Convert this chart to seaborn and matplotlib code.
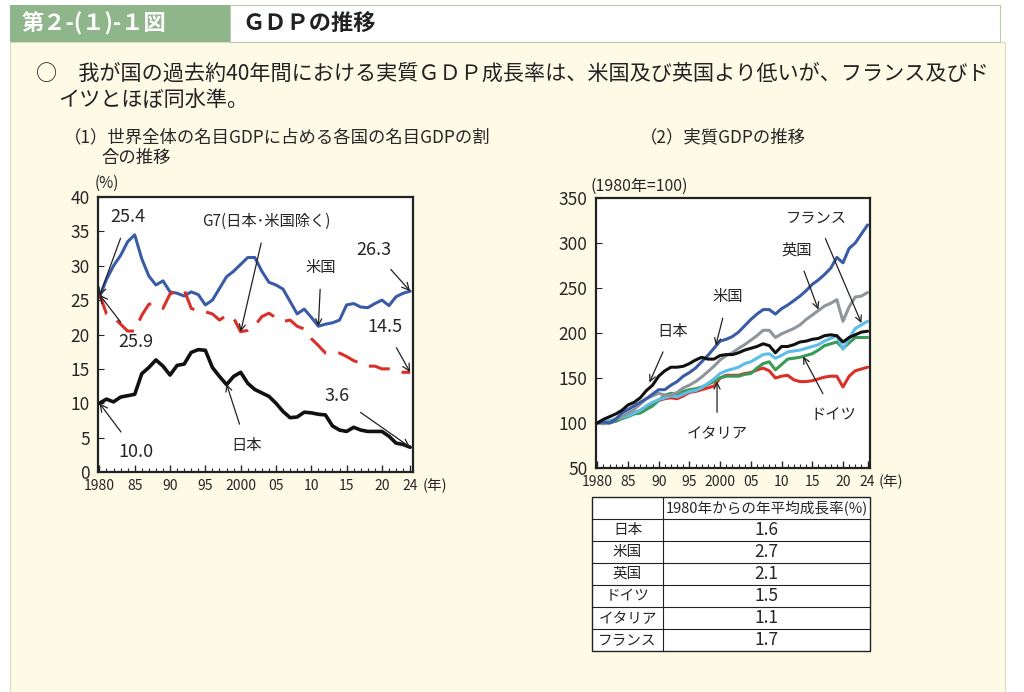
import numpy as np
import pandas as pd
import seaborn as sns
import matplotlib.pyplot as plt
from matplotlib.patches import Rectangle

sns.set_style('ticks')
plt.rcParams['font.family'] = ['Noto Sans CJK JP', 'DejaVu Sans']

years = list(range(1980, 2025))

# (1) 名目GDPシェア(%)
share_us = [25.4, 28, 30, 31.5, 33.5, 34.5, 31, 28.5, 27.2, 27.8, 26.2, 26.0, 25.6, 26.2, 25.8,
            24.3, 25.0, 26.7, 28.4, 29.2, 30.2, 31.2, 31.2, 29.2, 27.6, 27.2, 26.6, 24.8, 23.0, 23.7,
            22.5, 21.2, 21.5, 21.7, 22.1, 24.3, 24.5, 24.0, 23.9, 24.5, 25.0, 24.2, 25.5, 26.0, 26.3]
share_g7 = [25.9, 23, 22.5, 21.5, 20.5, 20.5, 22.8, 24.4, 24.5, 23.8, 25.9, 26.3, 26.5, 23.8, 23.4,
            23.3, 23.0, 22.1, 22.8, 22.4, 20.4, 20.6, 21.3, 22.6, 23.1, 22.4, 21.9, 22.1, 21.2, 20.8,
            19.4, 18.4, 17.3, 17.2, 17.3, 16.8, 16.2, 15.8, 15.4, 15.4, 15.0, 15.0, 14.7, 14.5, 14.5]
share_jp = [10.0, 10.6, 10.2, 10.9, 11.1, 11.3, 14.3, 15.2, 16.3, 15.4, 14.1, 15.5, 15.7, 17.4, 17.8,
            17.7, 15.2, 13.9, 12.7, 13.9, 14.5, 12.9, 12.0, 11.5, 11.0, 10.0, 8.8, 7.9, 8.0, 8.7,
            8.6, 8.4, 8.3, 6.7, 6.1, 5.9, 6.5, 6.1, 5.9, 5.9, 5.9, 5.2, 4.2, 4.0, 3.6]

# (2) 実質GDP (1980年=100)
real_us = [100, 101, 100, 104, 111, 115, 119, 123, 127, 132, 137, 137, 142, 146, 152, 156, 161, 168,
           175, 183, 191, 193, 196, 201, 208, 215, 221, 226, 226, 221, 227, 231, 236, 241, 247, 254,
           259, 265, 272, 284, 278, 294, 300, 310, 320]
real_uk = [100, 99, 101, 105, 107, 111, 115, 121, 127, 130, 133, 131, 131, 134, 139, 142, 146, 151,
           157, 163, 170, 175, 178, 183, 187, 192, 197, 203, 203, 195, 199, 202, 205, 209, 215, 220,
           225, 230, 233, 237, 213, 229, 240, 241, 245]
real_jp = [100, 104, 107, 110, 114, 120, 123, 128, 136, 142, 152, 158, 162, 162, 163, 166, 170, 173,
           171, 171, 175, 176, 176, 178, 181, 183, 185, 188, 186, 178, 185, 185, 187, 190, 191, 193,
           194, 197, 198, 197, 190, 195, 198, 201, 202]
real_fr = [100, 101, 103, 104, 106, 108, 111, 114, 119, 123, 126, 128, 130, 129, 132, 135, 136, 139,
           144, 149, 155, 158, 160, 162, 166, 168, 172, 176, 177, 172, 175, 179, 180, 181, 183, 185,
           187, 191, 194, 197, 182, 194, 205, 209, 213]
real_de = [100, 100, 100, 102, 105, 107, 110, 111, 115, 119, 125, 131, 133, 132, 135, 137, 138, 140,
           143, 146, 150, 152, 152, 152, 154, 155, 161, 166, 168, 159, 165, 171, 172, 173, 175, 177,
           181, 186, 188, 190, 183, 189, 195, 195, 195]
real_it = [100, 101, 101, 102, 105, 108, 111, 114, 118, 122, 125, 127, 128, 127, 130, 134, 135, 137,
           139, 141, 150, 153, 153, 153, 155, 156, 159, 161, 158, 150, 152, 153, 148, 146, 146, 147,
           149, 151, 152, 152, 140, 152, 158, 160, 162]

tbl_countries = ['日本', '米国', '英国', 'ドイツ', 'イタリア', 'フランス']
tbl_rates = ['1.6', '2.7', '2.1', '1.5', '1.1', '1.7']

xticks = [1980, 1985, 1990, 1995, 2000, 2005, 2010, 2015, 2020, 2024]
xticklabels = ['1980', '85', '90', '95', '2000', '05', '10', '15', '20', '24']

W, H = 1024, 692
BG = '#fdfbe6'

def fx(x): return x / W
def fy(y): return 1 - y / H

fig = plt.figure(figsize=(10.24, 6.92), dpi=100, facecolor='white')
for r in (Rectangle((fx(10), 0), fx(995), fy(42), facecolor=BG, edgecolor='#dddcc0', lw=0.8),
          Rectangle((fx(10), fy(42)), fx(220), 37 / H, facecolor='#8fb68a', edgecolor='none'),
          Rectangle((fx(230), fy(42)), fx(770), 37 / H, facecolor='white', edgecolor='#b8cdb0', lw=0.8)):
    r.set_transform(fig.transFigure)
    r.set_zorder(-10)
    fig.add_artist(r)
fig.text(fx(22), fy(24), '第２-(１)-１図', color='white', fontsize=16, fontweight='bold', va='center')
fig.text(fx(242), fy(24), 'ＧＤＰの推移', color='#222222', fontsize=16, fontweight='bold', va='center')
fig.text(fx(36), fy(74), '○　我が国の過去約40年間における実質ＧＤＰ成長率は、米国及び英国より低いが、フランス及びド',
         fontsize=15.2, va='center', color='#222222')
fig.text(fx(58), fy(100), 'イツとほぼ同水準。', fontsize=15.2, va='center', color='#222222')
fig.text(fx(64), fy(137), '（1）世界全体の名目GDPに占める各国の名目GDPの割', fontsize=12.5, va='center')
fig.text(fx(101), fy(158), '合の推移', fontsize=12.5, va='center')
fig.text(fx(640), fy(137), '（2）実質GDPの推移', fontsize=12.5, va='center')

# ---- (1) ----
ax1 = fig.add_axes([fx(98), fy(472), fx(413 - 98), (472 - 197) / H])
df1 = pd.DataFrame({'year': years, 'us': share_us, 'g7': share_g7, 'jp': share_jp})
sns.lineplot(data=df1, x='year', y='us', ax=ax1, color='#3a5ba5', lw=2.2)
sns.lineplot(data=df1, x='year', y='g7', ax=ax1, color='#d9302a', lw=2.2)
ax1.lines[-1].set_dashes([7, 4])
sns.lineplot(data=df1, x='year', y='jp', ax=ax1, color='#111111', lw=2.6)
ax1.set_ylim(0, 40)
ax1.set_xlim(1979.8, 2024.4)
ax1.set_yticks(range(0, 41, 5))
ax1.text(-0.01, 1.02, '(%)', transform=ax1.transAxes, fontsize=11, ha='left', va='bottom')

arw = dict(arrowstyle='->', color='#222222', lw=0.9, shrinkA=7, shrinkB=0)
def ann(ax, txt, xy, xytext, fs=11.5):
    ax.annotate(txt, xy=xy, xytext=xytext, fontsize=fs, ha='center', va='center',
                arrowprops=arw)
ann(ax1, '25.4', (1980, 25.6), (1984.1, 37.1), fs=13)
ann(ax1, '25.9', (1980, 25.8), (1985.2, 18.9), fs=13)
ann(ax1, '10.0', (1980, 10.0), (1985.2, 2.9), fs=13)
ann(ax1, 'G7(日本･米国除く)', (2000, 20.4), (2003.6, 36.4), fs=11)
ann(ax1, '米国', (2011, 21.2), (2011.4, 29.7), fs=11)
ann(ax1, '26.3', (2024, 26.3), (2018.8, 32.3), fs=13)
ann(ax1, '14.5', (2024, 14.5), (2020.4, 21.1), fs=13)
ann(ax1, '3.6', (2024, 3.6), (2013.6, 11.1), fs=13)
ann(ax1, '日本', (1998, 12.8), (2000.8, 3.9), fs=11)

# ---- (2) ----
ax2 = fig.add_axes([fx(596), fy(468), fx(870 - 596), (468 - 198) / H])
df2 = pd.DataFrame({'year': years, '米国': real_us, '英国': real_uk, '日本': real_jp,
                    'フランス': real_fr, 'ドイツ': real_de, 'イタリア': real_it})
colors2 = {'イタリア': '#d9302a', 'ドイツ': '#3a9a58', 'フランス': '#5bbde8',
           '英国': '#8e969c', '米国': '#3a5ba5', '日本': '#111111'}
for name, c in colors2.items():
    sns.lineplot(data=df2, x='year', y=name, ax=ax2, color=c, lw=2.2)
ax2.set_ylim(50, 350)
ax2.set_xlim(1979.8, 2024.4)
ax2.set_yticks(range(50, 351, 50))
ax2.text(-0.02, 1.01, '(1980年=100)', transform=ax2.transAxes, fontsize=11.5, ha='left', va='bottom')
ann(ax2, '日本', (1988.5, 145), (1992.2, 202), fs=11)
ann(ax2, '米国', (1999.3, 186), (2001.3, 240), fs=11)
ann(ax2, '英国', (2016, 226), (2012.4, 292), fs=11)
ann(ax2, 'フランス', (2023, 211), (2015.7, 328), fs=11)
ann(ax2, 'ドイツ', (2013.5, 174), (2018.5, 110), fs=11)
ann(ax2, 'イタリア', (1999.5, 146), (1999.5, 88), fs=11)

for ax in (ax1, ax2):
    ax.set_facecolor('white')
    ax.set_xlabel('')
    ax.set_ylabel('')
    ax.set_xticks(xticks)
    ax.set_xticklabels(xticklabels, fontsize=10)
    ax.set_xticks(years, minor=True)
    ax.tick_params(axis='x', which='major', direction='in', length=5, width=1, pad=5)
    ax.tick_params(axis='x', which='minor', direction='in', length=3, width=0.8)
    ax.tick_params(axis='y', direction='in', length=4, labelsize=12.5, pad=6)
    for s in ax.spines.values():
        s.set_linewidth(1.6)
        s.set_color('#222222')
    ax.text(1.03, -0.05, '(年)', transform=ax.transAxes, fontsize=10.5, ha='left', va='center')

# ---- table ----
tx0, tx1, tx2 = 592, 663, 870
ty0, rh = 497, 22
tab = fig.add_axes([0, 0, 1, 1], facecolor='none')
tab.set_xlim(0, W)
tab.set_ylim(H, 0)
tab.axis('off')
nrows = len(tbl_countries) + 1
tab.add_patch(Rectangle((tx0, ty0), tx2 - tx0, rh * nrows, facecolor='white', edgecolor='#222222', lw=1))
for i in range(1, nrows):
    tab.plot([tx0, tx2], [ty0 + i * rh] * 2, color='#222222', lw=0.8)
tab.plot([tx1, tx1], [ty0, ty0 + rh * nrows], color='#222222', lw=0.8)
tab.text((tx1 + tx2) / 2, ty0 + rh / 2, '1980年からの年平均成長率(%)', ha='center', va='center', fontsize=10.5)
for i, (c, r) in enumerate(zip(tbl_countries, tbl_rates), start=1):
    yc = ty0 + rh * i + rh / 2
    tab.text((tx0 + tx1) / 2, yc, c, ha='center', va='center', fontsize=10.5)
    tab.text((tx1 + tx2) / 2, yc, r, ha='center', va='center', fontsize=12.5)

fig.savefig('out.png', dpi=100, facecolor=fig.get_facecolor())
